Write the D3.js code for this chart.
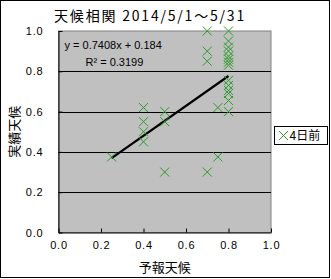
<!DOCTYPE html>
<html>
<head>
<meta charset="utf-8">
<script src="https://cdn.jsdelivr.net/npm/d3@7"></script>
<style>
  body { margin: 0; background: #fff; }
  text { font-family: "Liberation Sans", "Noto Sans CJK JP", sans-serif; }
  .jp { font-family: "Noto Sans CJK JP", sans-serif; }
</style>
</head>
<body>
<div id="chart"></div>
<script>
// Svg Dimensions
var svgWidth = 331;
var svgHeight = 279;

// Plot area edges
var margin = { top: 31, right: 60, bottom: 46.5, left: 58.5 };
var chartWidth = svgWidth - margin.left - margin.right;
var chartHeight = svgHeight - margin.top - margin.bottom;

// Data: forecast (x) vs actual (y), "4日前"
var forecast = [0.25,
    0.4, 0.4, 0.4, 0.4,
    0.5, 0.5, 0.5,
    0.7, 0.7, 0.7, 0.7,
    0.75, 0.75,
    0.8, 0.8, 0.8, 0.8, 0.8, 0.8, 0.8, 0.8, 0.8, 0.8, 0.8, 0.8, 0.8, 0.8];
var actual = [0.375,
    0.62, 0.55, 0.5, 0.45,
    0.6, 0.55, 0.3,
    1.0, 0.9, 0.85, 0.3,
    0.62, 0.375,
    1.0, 0.95, 0.92, 0.9, 0.875, 0.86, 0.845, 0.83, 0.755, 0.73, 0.705, 0.69, 0.655, 0.6];
var xTicks = [0, 0.2, 0.4, 0.6, 0.8, 1.0];
var yTicks = [0, 0.2, 0.4, 0.6, 0.8, 1.0];
var trendSlope = 0.7408;
var trendIntercept = 0.184;
var seriesName = "4日前";
var titleText = "天候相関 2014/5/1～5/31";

var svg = d3.select("#chart").append("svg")
    .attr("width", svgWidth)
    .attr("height", svgHeight);

// Outer frame
svg.append("rect")
    .attr("x", 0.5).attr("y", 0.5)
    .attr("width", svgWidth - 2).attr("height", svgHeight - 2)
    .attr("fill", "#fff").attr("stroke", "#000");

var chartGroup = svg.append("g")
    .attr("transform", `translate(${margin.left}, ${margin.top})`);

var xScale = d3.scaleLinear().domain([0, 1]).range([0, chartWidth]);
var yScale = d3.scaleLinear().domain([0, 1]).range([chartHeight, 0]);

// Plot area
chartGroup.append("rect")
    .attr("width", chartWidth).attr("height", chartHeight)
    .attr("fill", "#c0c0c0").attr("stroke", "#808080");

// Gridlines
chartGroup.selectAll(".grid")
    .data(yTicks.filter(d => d > 0 && d < 1))
    .enter().append("line")
    .attr("x1", 0).attr("x2", chartWidth)
    .attr("y1", d => Math.round(yScale(d)) + 0.5)
    .attr("y2", d => Math.round(yScale(d)) + 0.5)
    .attr("stroke", "#000");

// Axes
var bottomAxis = d3.axisBottom(xScale).tickValues(xTicks)
    .tickFormat(d3.format(".1f")).tickSizeInner(-4).tickSizeOuter(0).tickPadding(9);
var leftAxis = d3.axisLeft(yScale).tickValues(yTicks)
    .tickFormat(d3.format(".1f")).tickSizeInner(-4).tickSizeOuter(0).tickPadding(15);

var xAxis = chartGroup.append("g")
    .attr("transform", `translate(0, ${chartHeight})`)
    .call(bottomAxis);
var yAxis = chartGroup.append("g").call(leftAxis);

[xAxis, yAxis].forEach(function(ax) {
    ax.select(".domain").attr("stroke", "#000");
    ax.selectAll("line").attr("stroke", "#000");
    ax.selectAll("text").attr("font-size", "11px").attr("fill", "#000")
        .attr("letter-spacing", "0.8px")
        .attr("font-family", "Liberation Sans, sans-serif");
});

// Trendline from the fitted equation
var xExtent = d3.extent(forecast);
chartGroup.append("line")
    .attr("x1", xScale(xExtent[0]))
    .attr("y1", yScale(trendSlope * xExtent[0] + trendIntercept))
    .attr("x2", xScale(xExtent[1]))
    .attr("y2", yScale(trendSlope * xExtent[1] + trendIntercept))
    .attr("stroke", "#000").attr("stroke-width", 2.2);

// X markers
var s = 4.5;
function crossPath(cx, cy) {
    return `M${cx - s},${cy - s}L${cx + s},${cy + s}M${cx - s},${cy + s}L${cx + s},${cy - s}`;
}
chartGroup.selectAll(".pt")
    .data(forecast.map((f, i) => [f, actual[i]]))
    .enter().append("path")
    .attr("d", d => crossPath(xScale(d[0]), yScale(d[1])))
    .attr("stroke", "#2a9a2a").attr("stroke-width", 1).attr("fill", "none");

// Equation labels
chartGroup.append("text")
    .attr("x", 6).attr("y", 18)
    .attr("font-size", "11px")
    .text(`y = ${trendSlope}x + ${trendIntercept}`);
chartGroup.append("text")
    .attr("x", 27).attr("y", 35)
    .attr("font-size", "11px")
    .text("R² = 0.3199");

// Title
svg.append("text")
    .attr("class", "jp")
    .attr("x", 150).attr("y", 21)
    .attr("text-anchor", "middle")
    .attr("font-size", "14px")
    .attr("letter-spacing", "1.8px")
    .text(titleText);

// Axis titles
svg.append("text")
    .attr("class", "jp")
    .attr("x", margin.left + chartWidth / 2).attr("y", 272)
    .attr("text-anchor", "middle")
    .attr("font-size", "13px")
    .text("予報天候");
svg.append("text")
    .attr("class", "jp")
    .attr("transform", `translate(19, ${margin.top + chartHeight / 2}) rotate(-90)`)
    .attr("text-anchor", "middle")
    .attr("font-size", "13px")
    .text("実績天候");

// Legend
var legend = svg.append("g").attr("transform", "translate(274.5, 126.5)");
legend.append("rect")
    .attr("width", 53).attr("height", 18)
    .attr("fill", "#fff").attr("stroke", "#000");
legend.append("path")
    .attr("d", crossPath(9, 9))
    .attr("stroke", "#2a9a2a").attr("fill", "none");
legend.append("text")
    .attr("class", "jp")
    .attr("x", 15).attr("y", 13.5)
    .attr("font-size", "12px")
    .text(seriesName);
</script>
</body>
</html>
